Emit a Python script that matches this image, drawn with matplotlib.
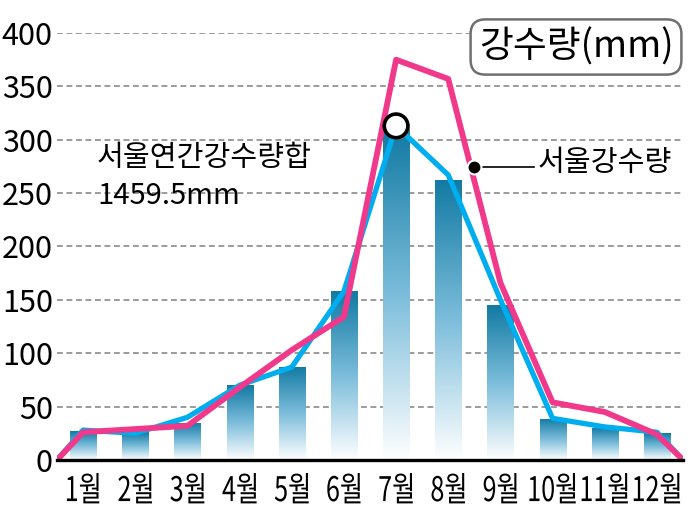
import matplotlib
matplotlib.use('Agg')
import matplotlib.pyplot as plt
import matplotlib.patheffects as pe
import matplotlib.transforms as mtransforms
from matplotlib.colors import LinearSegmentedColormap
from matplotlib.textpath import TextPath
from matplotlib.patches import PathPatch
from matplotlib.font_manager import FontProperties
import numpy as np

plt.rcParams['font.family'] = ['Noto Sans CJK KR', 'DejaVu Sans']

months = ['1월', '2월', '3월', '4월', '5월', '6월', '7월', '8월', '9월', '10월', '11월', '12월']
bar_values = [27, 26, 35, 70, 87.5, 158, 310, 262.5, 145, 38.5, 30, 25]
blue_values = [28, 25, 40, 70, 87, 158, 313, 267, 150, 39, 31, 26]
pink_values = [26, 29, 32, 68, 103, 134, 375, 357, 166, 54, 45, 24]
y_ticks = [0, 50, 100, 150, 200, 250, 300, 350, 400]

fig = plt.figure(figsize=(6.96, 5.2), dpi=100)
ax = fig.add_axes([57/696, 60/520, 626/696, (460-33)/520])

x = np.arange(len(months))
cmap = LinearSegmentedColormap.from_list('bar', ['#ffffff', '#7cbddb', '#127aa3'])
grad = np.linspace(0, 1, 256).reshape(-1, 1)

# bars with a vertical gradient (dark on top, white at bottom)
bars = ax.bar(x, bar_values, width=0.5, color='none', edgecolor='none', zorder=2)
for b in bars:
    x0, w, h = b.get_x(), b.get_width(), b.get_height()
    im = ax.imshow(grad, cmap=cmap, aspect='auto', origin='lower',
                   extent=[x0, x0 + w, 0, h], zorder=2)
    im.set_clip_path(b)

# lines run down to zero at both edges of the plot
lx = np.concatenate([[-0.5], x, [11.5]])
pink_y = [0] + pink_values + [0]
ax.plot(lx, [0] + blue_values + [0], color='#00aeef', lw=3.8, zorder=3,
        solid_capstyle='butt')
ax.plot(lx, pink_y, color='#f1398b', lw=4.2, zorder=4,
        solid_capstyle='butt')

# circle on the July point
ax.plot(6, blue_values[6], 'o', ms=17, mfc='white', mec='black', mew=2.6, zorder=6,
        path_effects=[pe.SimplePatchShadow(offset=(1.5, -1.5), shadow_rgbFace='gray', alpha=0.6),
                      pe.Normal()])

# label pointer on the pink line
dot_x = 7.43
dot_y = np.interp(dot_x, lx, pink_y)
ax.plot([dot_x + 0.06, 8.65], [dot_y, dot_y], color='black', lw=1.2, zorder=5)
ax.plot(dot_x + 0.06, dot_y, 'o', ms=10, mfc='black', mec='white', mew=1.5, zorder=6)
ax.text(8.72, dot_y + 3, '서울강수량', fontsize=21, ha='left', va='center', zorder=6)

ax.set_xlim(-0.5, 11.5)
ax.set_ylim(0, 400)
ax.set_yticks(y_ticks)
ax.set_yticklabels([str(v) for v in y_ticks], fontsize=22)
ax.set_xticks(x)
ax.set_xticklabels([])
ax.tick_params(axis='both', length=0)
ax.tick_params(axis='y', pad=3)

# month labels in a narrow (horizontally squeezed) face
fp = FontProperties(family='Noto Sans CJK KR')
for xi, label in zip(x, months):
    tp = TextPath((0, 0), label, size=34, prop=fp)
    ext = tp.get_extents()
    tr = (mtransforms.Affine2D().translate(-(ext.x0 + ext.x1) / 2, -ext.y1)
          .scale(0.74, 1).translate(0, -13)
          + mtransforms.ScaledTranslation(xi, 0, ax.transData))
    fig.add_artist(PathPatch(tp, transform=tr, fc='black', ec='none'))

for v in y_ticks[1:]:
    ax.axhline(v, color='#8a8a8a', lw=1.2, linestyle=(0, (3.5, 2.2)), zorder=1)

for s in ['top', 'right', 'left']:
    ax.spines[s].set_visible(False)
ax.spines['bottom'].set_linewidth(2.4)
ax.spines['bottom'].set_color('black')
ax.spines['bottom'].set_zorder(5)

fig.text(97/696, 1 - 143/520, '서울연간강수량합\n1459.5mm', fontsize=21,
         ha='left', va='top', linespacing=1.35)

fig.text(576/696, 1 - 47/520, '강수량(mm)', fontsize=26.5, fontweight='medium',
         ha='center', va='center',
         bbox=dict(boxstyle='round,pad=0.22,rounding_size=0.4', fc='white',
                   ec='#707070', lw=1.8))

fig.savefig('out.png', dpi=100, facecolor='white')
